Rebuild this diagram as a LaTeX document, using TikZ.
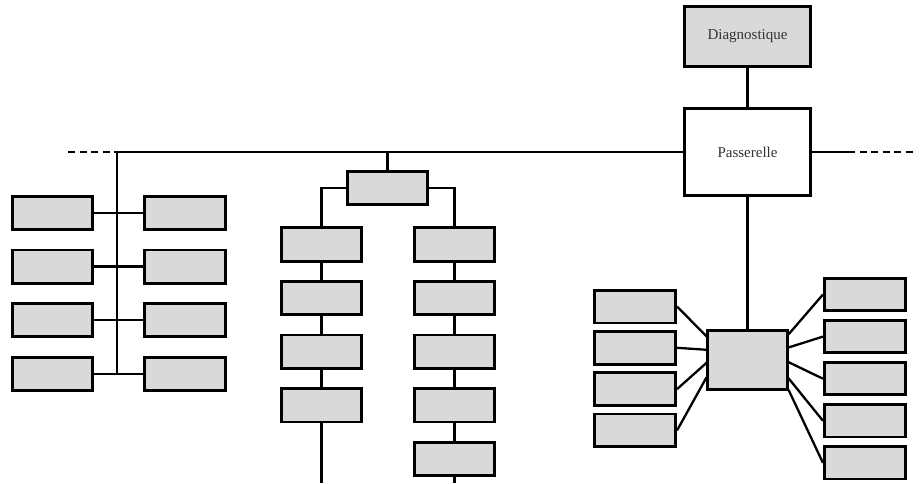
\documentclass[tikz,border=0pt]{standalone}
\usepackage{fontspec}
\setmainfont{Liberation Serif}
\usetikzlibrary{positioning}
\definecolor{unitgray}{HTML}{D9D9D9}
\begin{document}
\begin{tikzpicture}[
  x=1pt, y=-1pt,
  node distance=17.5pt and 10mm,
  unit/.style={draw, line width=2.8pt, fill=unitgray, minimum width=80.3pt, minimum height=33.3pt, inner sep=0pt},
  gate/.style={unit, minimum width=126.3pt, font=\fontsize{15}{18}\selectfont, text=black!80},
  link/.style={line width=2.3pt},
  bus/.style={link, dash pattern=on 7pt off 4.5pt}
]
\useasboundingbox (0,0) rectangle (923,483);

% bus coordinates
\coordinate (busL) at (68,152);
\coordinate (trunk) at (117,152);
\coordinate (busE) at (848,152);
\coordinate (busR) at (915,152);
\coordinate (floor) at (0,483);

% gateway and diagnostics
\node[gate, minimum height=60.3pt] (diag) at (747.5,36.5) {Diagnostique};
\node[gate, fill=white, minimum height=87.3pt] (gw) at (747.5,152) {Passerelle};

% left group
\node[unit] (la1) at (52.5,213) {};
\node[unit, below=of la1] (la2) {};
\node[unit, below=of la2] (la3) {};
\node[unit, below=of la3] (la4) {};
\node[unit] (ra1) at (185,213) {};
\node[unit, below=of ra1] (ra2) {};
\node[unit, below=of ra2] (ra3) {};
\node[unit, below=of ra3] (ra4) {};

% middle group
\node[unit] (mh) at (387.5,188) {};
\node[unit] (ma1) at (321.5,244.5) {};
\node[unit, below=of ma1] (ma2) {};
\node[unit, below=of ma2] (ma3) {};
\node[unit, below=of ma3] (ma4) {};
\node[unit] (mb1) at (454.5,244.5) {};
\node[unit, below=of mb1] (mb2) {};
\node[unit, below=of mb2] (mb3) {};
\node[unit, below=of mb3] (mb4) {};
\node[unit, below=of mb4] (mb5) {};

% right group
\node[unit, minimum width=79.3pt, minimum height=59.3pt] (hub) at (747.5,360) {};
\node[unit, minimum width=81.3pt, minimum height=32.8pt] (sl1) at (635,306.5) {};
\node[unit, minimum width=81.3pt, minimum height=32.8pt, below=5.7pt of sl1] (sl2) {};
\node[unit, minimum width=81.3pt, minimum height=32.8pt, below=5.7pt of sl2] (sl3) {};
\node[unit, minimum width=81.3pt, minimum height=32.8pt, below=5.7pt of sl3] (sl4) {};
\node[unit, minimum width=81.3pt, minimum height=32.3pt] (sr1) at (865,294.5) {};
\node[unit, minimum width=81.3pt, minimum height=32.3pt, below=7pt of sr1] (sr2) {};
\node[unit, minimum width=81.3pt, minimum height=32.3pt, below=7pt of sr2] (sr3) {};
\node[unit, minimum width=81.3pt, minimum height=32.3pt, below=7pt of sr3] (sr4) {};
\node[unit, minimum width=81.3pt, minimum height=32.3pt, below=7pt of sr4] (sr5) {};

% bus
\draw[bus] (busL) -- (trunk);
\draw[link] (trunk) -- (gw.west);
\draw[link] (gw.east) -- (busE);
\draw[bus] (busE) -- (busR);
\draw[link] (diag) -- (gw);

% left links
\draw[link] (trunk) -- (trunk |- la4);
\draw[link] (la1) -- (ra1);
\draw[link] (la2) -- (ra2);
\draw[link] (la3) -- (ra3);
\draw[link] (la4) -- (ra4);

% middle links
\draw[link] (mh.north) -- (mh.north |- trunk);
\draw[link] (mh.west) -| (ma1.north);
\draw[link] (mh.east) -| (mb1.north);
\draw[link] (ma1) -- (ma2);
\draw[link] (ma2) -- (ma3);
\draw[link] (ma3) -- (ma4);
\draw[link] (ma4) -- (ma4 |- floor);
\draw[link] (mb1) -- (mb2);
\draw[link] (mb2) -- (mb3);
\draw[link] (mb3) -- (mb4);
\draw[link] (mb4) -- (mb5);
\draw[link] (mb5) -- (mb5 |- floor);

% right links
\draw[link] (gw) -- (hub);
\draw[link] (sl1.east) -- (hub.150);
\draw[link] (sl2.east) -- (hub.166);
\draw[link] (sl3.east) -- (hub.184);
\draw[link] (sl4.east) -- (hub.203);
\draw[link] (sr1.west) -- (hub.32);
\draw[link] (sr2.west) -- (hub.17);
\draw[link] (sr3.west) -- (hub.-3);
\draw[link] (sr4.west) -- (hub.-24);
\draw[link] (sr5.west) -- (hub.-36);
\end{tikzpicture}
\end{document}
